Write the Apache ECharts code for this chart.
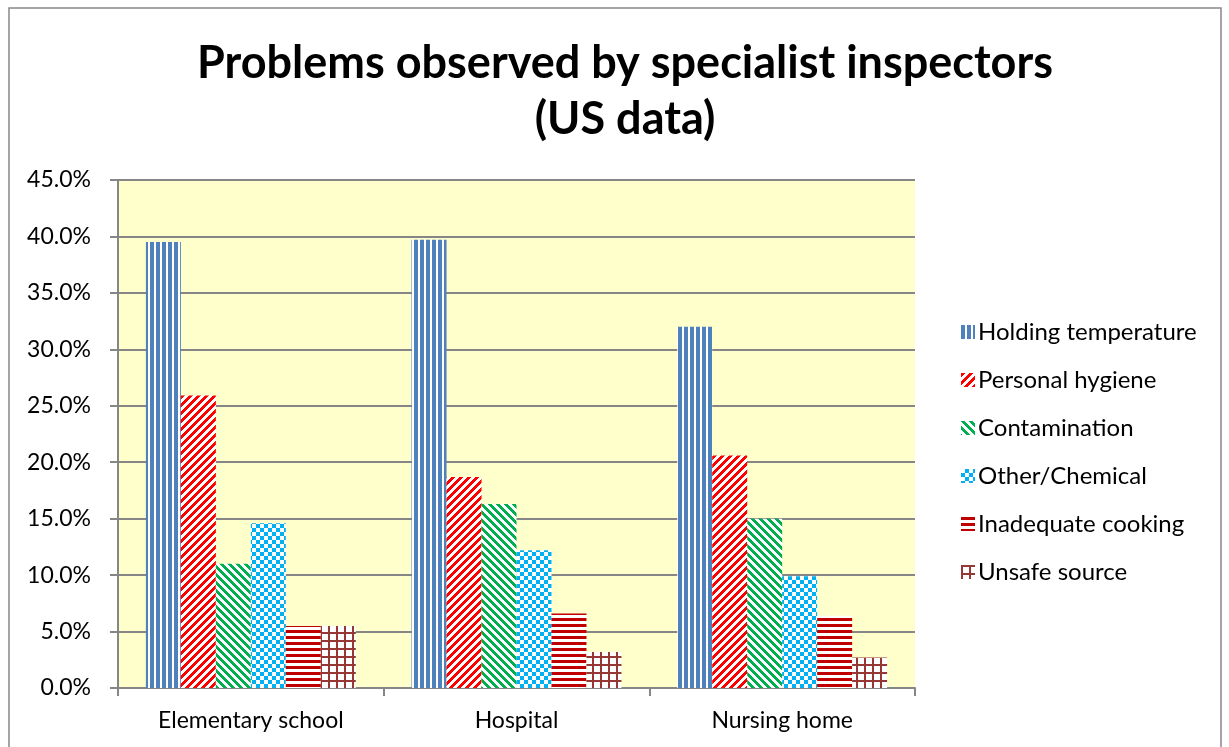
<!DOCTYPE html>
<html>
<head>
<meta charset="utf-8">
<script src="https://cdn.jsdelivr.net/npm/echarts@6/dist/echarts.min.js"></script>
<style>
  html, body { margin: 0; padding: 0; background: #fff; }
  #chart { width: 1229px; height: 747px; }
</style>
</head>
<body>
<div id="chart"></div>
<script>
var categories = ['Elementary school', 'Hospital', 'Nursing home'];
var seriesNames = ['Holding temperature', 'Personal hygiene', 'Contamination', 'Other/Chemical', 'Inadequate cooking', 'Unsafe source'];
var holdingTemp = [39.5, 39.7, 32.0];
var personalHygiene = [25.9, 18.7, 20.6];
var contamination = [11.0, 16.3, 15.0];
var otherChemical = [14.6, 12.2, 9.9];
var inadequateCooking = [5.5, 6.6, 6.4];
var unsafeSource = [5.5, 3.2, 2.7];

// 小图案画布
function makeTile(w, h, color, test) {
    var c = document.createElement('canvas');
    c.width = w; c.height = h;
    var ctx = c.getContext('2d');
    ctx.fillStyle = '#ffffff';
    ctx.fillRect(0, 0, w, h);
    ctx.fillStyle = color;
    for (var y = 0; y < h; y++) {
        for (var x = 0; x < w; x++) {
            if (test(x, y)) ctx.fillRect(x, y, 1, 1);
        }
    }
    return { image: c, repeat: 'repeat' };
}

var patterns = [
    makeTile(6, 6, '#4F81BD', function (x, y) { return x < 4; }),
    makeTile(8, 8, '#FF0000', function (x, y) { return (x + y) % 8 < 4; }),
    makeTile(8, 8, '#00B050', function (x, y) { return ((x - y) % 8 + 8) % 8 < 4; }),
    makeTile(8, 8, '#00B0F0', function (x, y) { return (x < 4) !== (y < 4); }),
    makeTile(6, 6, '#C00000', function (x, y) { return y < 3; }),
    makeTile(8, 8, '#953735', function (x, y) { return x < 2 || y < 2; })
];

var values = [holdingTemp, personalHygiene, contamination, otherChemical, inadequateCooking, unsafeSource];
var series = [];
for (var i = 0; i < seriesNames.length; i++) {
    series.push({
        name: seriesNames[i],
        type: 'bar',
        barGap: '0%',
        barCategoryGap: '21%',
        data: values[i],
        itemStyle: { color: patterns[i] }
    });
}

var myChart = echarts.init(document.getElementById('chart'));
var option = {
    animation: false,
    title: {
        text: 'Problems observed by specialist inspectors\n(US data)',
        left: 620,
        top: 30,
        textAlign: 'center',
        textStyle: {
            fontFamily: 'Lato',
            fontWeight: 'bold',
            fontSize: 45,
            lineHeight: 56,
            color: '#000'
        }
    },
    legend: {
        orient: 'vertical',
        left: 956,
        top: 315,
        itemGap: 24,
        itemWidth: 14,
        itemHeight: 14,
        icon: 'rect',
        textStyle: { fontFamily: 'Lato', fontSize: 24, lineHeight: 24, color: '#000', padding: [0, 0, 0, -2] },
        data: seriesNames
    },
    grid: { left: 118, right: 314, top: 180, bottom: 59, containLabel: false },
    graphic: [
        { type: 'rect', shape: { x: 9, y: 8, width: 1212, height: 760 }, style: { fill: 'none', stroke: '#888', lineWidth: 1.5 }, silent: true },
        { type: 'rect', shape: { x: 118, y: 180, width: 797, height: 508 }, style: { fill: '#FFFFCC' }, z: -1, silent: true }
    ],
    xAxis: {
        type: 'category',
        data: categories,
        axisLine: { lineStyle: { color: '#868686', width: 2 } },
        axisTick: { show: true, length: 8, lineStyle: { color: '#868686', width: 2 } },
        axisLabel: { fontFamily: 'Lato', fontSize: 23, color: '#000', margin: 21 }
    },
    yAxis: {
        type: 'value',
        min: 0,
        max: 45,
        interval: 5,
        axisLine: { show: true, lineStyle: { color: '#868686', width: 2 } },
        axisTick: { show: true, length: 8, lineStyle: { color: '#868686', width: 2 } },
        splitLine: { lineStyle: { color: '#868686', width: 2 } },
        axisLabel: {
            fontFamily: 'Lato', fontSize: 23, color: '#000', margin: 27,
            formatter: function (v) { return v.toFixed(1) + '%'; }
        }
    },
    series: series
};
myChart.setOption(option);
</script>
</body>
</html>
